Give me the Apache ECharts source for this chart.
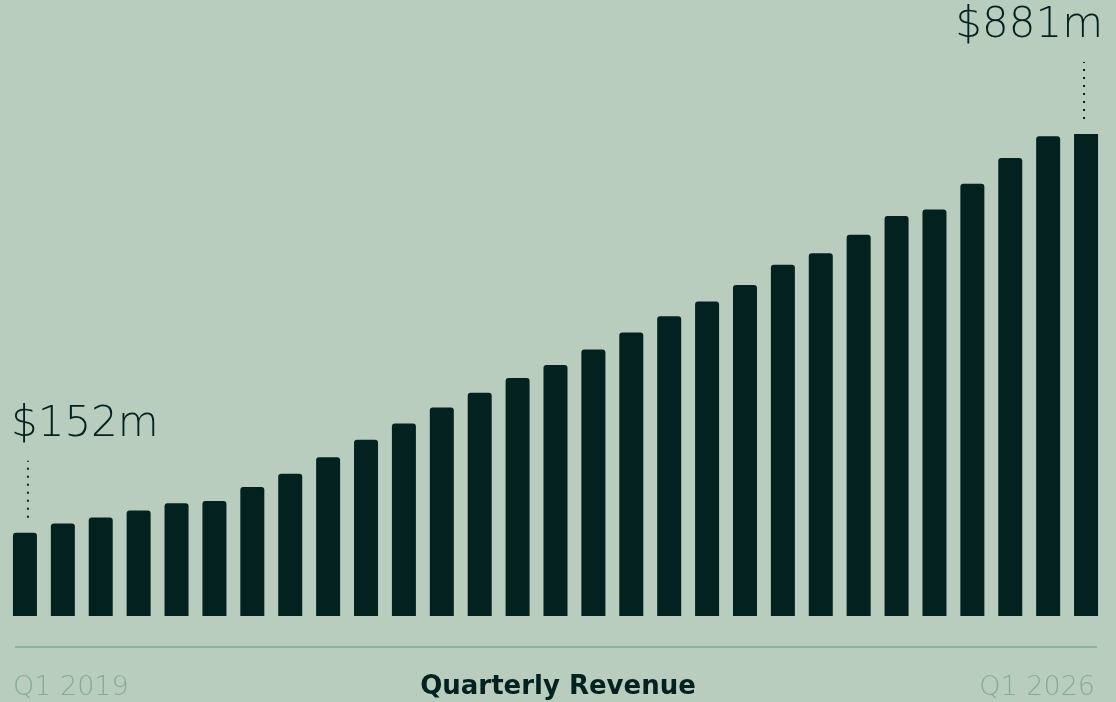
<!DOCTYPE html>
<html>
<head>
<meta charset="utf-8">
<script src="https://cdn.jsdelivr.net/npm/echarts@6/dist/echarts.min.js"></script>
<style>
  html, body { margin: 0; padding: 0; background: #b8cdbe; }
  #main { width: 1116px; height: 702px; }
</style>
</head>
<body>
<div id="main"></div>
<script>
// quarterly revenue, $m, Q1 2019 .. Q1 2026
var quarters = [];
for (var yr = 2019; yr <= 2026; yr++) {
	for (var q = 1; q <= 4; q++) {
		if (yr === 2026 && q > 1) break;
		quarters.push('Q' + q + ' ' + yr);
	}
}
var revenue = [152, 169, 180, 193, 206, 210, 236, 260, 290, 322,
	352, 381, 408, 435, 459, 487, 518, 548, 575, 605,
	642, 663, 697, 731, 743, 790, 837, 877, 881];
var callouts = [0, revenue.length - 1]; // first + last bar get a label
var chartTitle = 'Quarterly Revenue';

var dark = '#03221f',
	muted = '#88ab93',
	font = '"DejaVu Sans", sans-serif';

var chart = echarts.init(document.getElementById('main'));

var barData = revenue.map(function(v, i) {
	var last = i === revenue.length - 1;
	return {
		value: v,
		itemStyle: { borderRadius: last ? 0 : [3, 3, 0, 0] }
	};
});

var calloutData = callouts.map(function(i) {
	return [i, revenue[i], i === 0 ? 0 : 1];
});

chart.setOption({
	backgroundColor: '#b8cdbe',
	animation: false,
	grid: { left: 6, right: 11, top: 134, bottom: 86 },
	xAxis: {
		type: 'category',
		data: quarters,
		axisLine: { show: false },
		axisTick: { show: false },
		axisLabel: { show: false }
	},
	yAxis: {
		type: 'value',
		min: 0,
		max: 881,
		show: false,
		splitLine: { show: false }
	},
	title: [{
		text: quarters[0],
		left: 8, top: 669,
		textStyle: { color: muted, fontSize: 27, fontWeight: 200, fontFamily: font }
	}, {
		text: chartTitle,
		left: 'center', top: 669,
		textStyle: { color: dark, fontSize: 26, fontWeight: 'bold', fontFamily: font }
	}, {
		text: quarters[quarters.length - 1],
		right: 16, top: 669,
		textStyle: { color: muted, fontSize: 27, fontWeight: 200, fontFamily: font }
	}],
	graphic: [{
		type: 'line',
		shape: { x1: 15, y1: 647, x2: 1097, y2: 647 },
		style: { stroke: '#8fb39a', lineWidth: 2 },
		silent: true
	}],
	series: [{
		type: 'bar',
		data: barData,
		barWidth: 24,
		itemStyle: { color: dark },
		silent: true
	}, {
		type: 'custom',
		data: calloutData,
		silent: true,
		renderItem: function(params, api) {
			var p = api.coord([api.value(0), api.value(1)]);
			var right = api.value(2) === 1;
			var x = right ? p[0] - 2 : p[0] + 3;
			var top = p[1] - 72;
			return {
				type: 'group',
				children: [{
					type: 'line',
					shape: { x1: x, y1: p[1] - 15, x2: x, y2: top },
					style: { stroke: dark, lineWidth: 2, lineDash: [2, 6] }
				}, {
					type: 'text',
					style: {
						x: right ? p[0] + 17 : p[0] - 14,
						y: top - 15,
						text: '$' + api.value(1) + 'm',
						align: right ? 'right' : 'left',
						verticalAlign: 'bottom',
						fill: dark,
						fontSize: 42,
						fontWeight: 200,
						fontFamily: font
					}
				}]
			};
		}
	}]
});
</script>
</body>
</html>
